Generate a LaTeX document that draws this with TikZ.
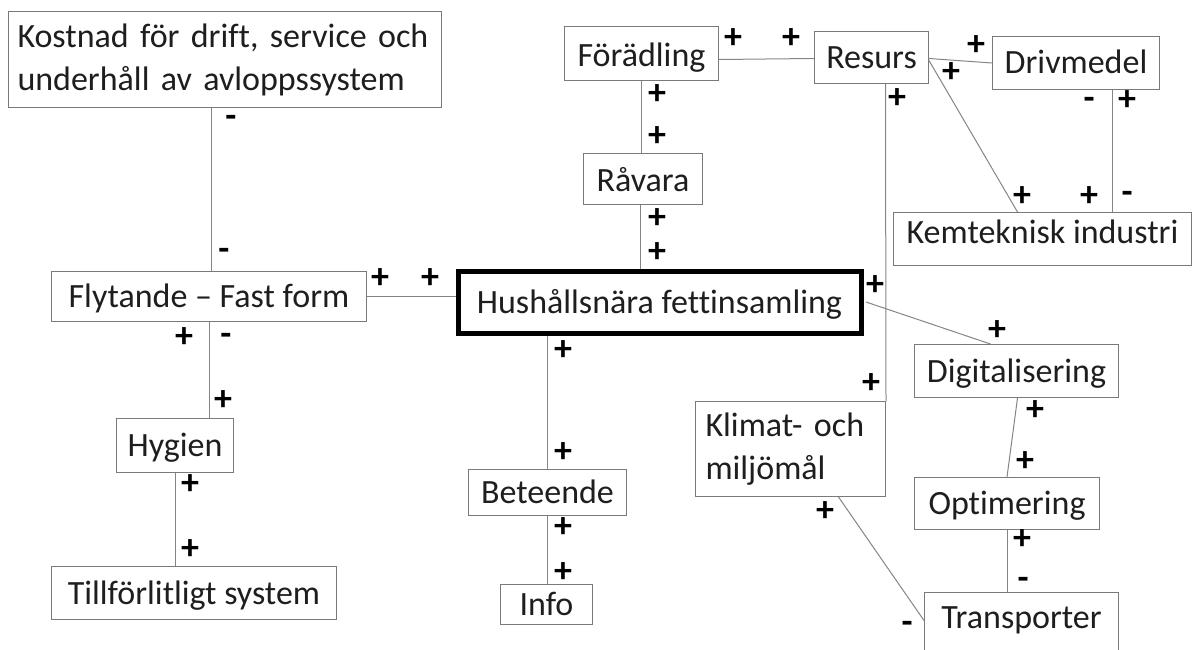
\documentclass[tikz,border=0pt]{standalone}
\usepackage{fontspec}
\setmainfont{Carlito}[Ligatures={NoCommon}]
\usetikzlibrary{calc}
\definecolor{boxgray}{HTML}{7A7A7A}
\definecolor{linegray}{HTML}{858585}
\definecolor{txt}{HTML}{1E1E1E}
\begin{document}
\begin{tikzpicture}[x=1pt,y=-1pt,
  box/.style={draw=boxgray, line width=1pt, anchor=north west, inner sep=0pt,
    font=\fontsize{34}{43}\selectfont, text=txt},
  one/.style={box, text height=22pt, text depth=0pt},
  mainbox/.style={draw=black, line width=5pt, anchor=north west, inner sep=0pt,
    font=\fontsize{34}{43}\selectfont, text=txt, text height=22pt, text depth=0pt},
  conn/.style={draw=linegray, line width=1pt},
  lbl/.style={font=\bfseries\fontsize{36}{36}\selectfont, inner sep=0pt, text=black}
]
\useasboundingbox (0,0) rectangle (1194,650);
\clip (0,0) rectangle (1194,650);

% boxes
\node[box, minimum height=96pt, inner xsep=9pt, text width=415pt, align=left] (kost) at (8,11)
  {Kostnad för drift, service och\\underhåll av avloppssystem};
\node[one, minimum width=315pt, minimum height=50pt] (flyt) at (51,271) {Flytande – Fast form};
\node[one, minimum width=117pt, minimum height=54pt] (hyg) at (116,418) {Hygien};
\node[one, minimum width=285pt, minimum height=53pt] (till) at (51,566) {Tillförlitligt system};
\node[mainbox, minimum width=403pt, minimum height=62pt] (hush) at (455.5,268.5) {Hushållsnära fettinsamling};
\node[one, text height=26pt, minimum width=154pt, minimum height=54pt] (ford) at (564,26) {Förädling};
\node[one, minimum width=114pt, minimum height=52pt] (resurs) at (814,31) {Resurs};
\node[one, minimum width=167pt, minimum height=53pt] (driv) at (992,36) {Drivmedel};
\node[one, text depth=13pt, minimum width=298pt, minimum height=53pt] (kem) at (893,212) {Kemteknisk industri};
\node[one, text height=25pt, minimum width=119pt, minimum height=51pt] (rav) at (583,153) {Råvara};
\node[box, minimum height=95pt, inner xsep=10pt, inner ysep=4pt, text width=170pt, align=left] (klimat) at (695,401)
  {\strut Klimat- och\\miljömål\strut};
\node[one, minimum width=204pt, minimum height=53pt] (digit) at (914,344) {Digitalisering};
\node[one, minimum width=185pt, minimum height=52pt] (optim) at (914,477) {Optimering};
\node[box, minimum width=194pt, text height=36pt, text depth=30pt] (trans) at (924,592) {Transporter};
\node[one, minimum width=158pt, minimum height=46pt] (bet) at (468,469) {Beteende};
\node[one, minimum width=92pt, minimum height=40pt] (info) at (500,584) {Info};

% connectors
\draw[conn] ([xshift=-13.5pt]kost.south) -- ([xshift=2.5pt]flyt.north);
\draw[conn] (flyt.east) -- (flyt.east -| hush.west);
\draw[conn] (flyt.south) -- (flyt.south |- hyg.north);
\draw[conn] (hyg.south) -- (hyg.south |- till.north);
\draw[conn] ([yshift=-6pt]ford.east) -- ([yshift=-1pt]resurs.west);
\draw[conn] (ford.south) -- (ford.south |- rav.north);
\draw[conn] ([xshift=-2.5pt]rav.south) -- ([xshift=-2.5pt]rav.south |- hush.north);
\draw[conn] ([yshift=-1pt]resurs.east) -- (driv.west);
\draw[conn] ([yshift=-3pt]resurs.east) -- ([xshift=-25pt]kem.north);
\draw[conn] ([xshift=14pt]resurs.south) -- (klimat.north east);
\draw[conn] ([xshift=36.5pt]driv.south) -- ([xshift=36.5pt]driv.south |- kem.north);
\draw[conn] ([xshift=2.5pt]hush.east) -- ([xshift=-26pt]digit.north);
\draw[conn] ([xshift=1pt]digit.south) -- (optim.north);
\draw[conn] (optim.south) -- (optim.south |- trans.north);
\draw[conn] ([xshift=48pt]klimat.south) -- ([yshift=5pt]trans.west);
\draw[conn] (hush.south -| bet.north) -- (bet.north);
\draw[conn] (bet.south) -- (bet.south |- info.north);

% signs
\foreach \n/\x/\y in {m1/231/121, m2/224/254, m3/226/339, m4/1089/103, m5/1127/197, m6/1023/583, m7/907/627}
  \node[lbl] (\n) at (\x,\y) {-};
\foreach \n/\x/\y in {p1/380/279, p2/430/279, p3/184/338, p4/223/401, p5/190/485, p6/190/550,
  p7/733/39, p8/791/39, p9/657/95, p10/657/137, p11/657/219, p12/657/253, p13/976/46, p14/951/73,
  p15/1022/197, p16/897/99, p17/871/384, p18/1127/101, p19/1089/197, p20/875/286, p21/997/331,
  p22/1035/411, p23/1025/462, p24/1022/540, p25/825/512, p26/563/351, p27/563/453, p28/563/528, p29/563/573}
  \node[lbl] (\n) at (\x,\y) {+};
\end{tikzpicture}
\end{document}
